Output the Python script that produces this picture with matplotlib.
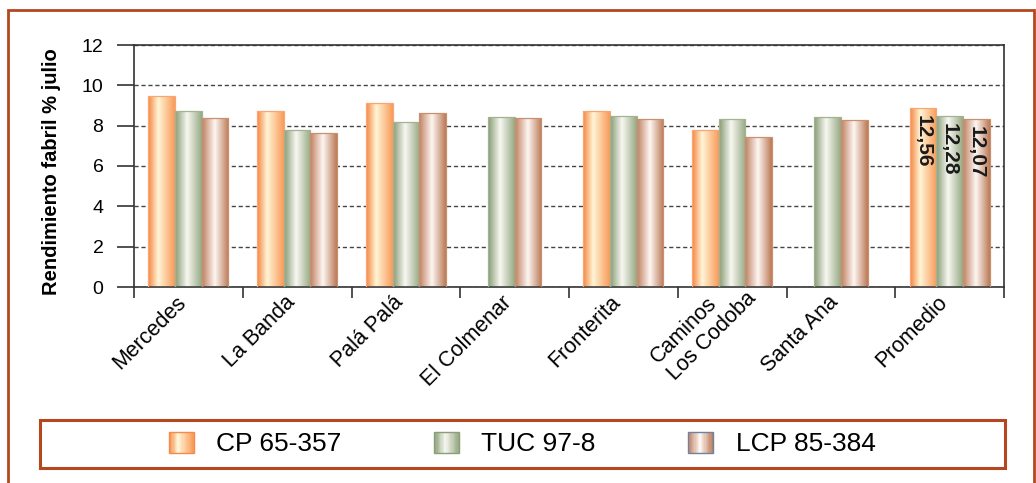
import numpy as np
import matplotlib
matplotlib.use('Agg')
import matplotlib.pyplot as plt
import matplotlib.transforms as mtransforms
from matplotlib.colors import LinearSegmentedColormap
from matplotlib.patches import Rectangle
from matplotlib.legend_handler import HandlerBase

plt.rcParams['font.family'] = ['Liberation Sans', 'DejaVu Sans']

# Data
categories = ['Mercedes', 'La Banda', 'Palá Palá', 'El Colmenar', 'Fronterita',
              'Caminos\nLos Codoba', 'Santa Ana', 'Promedio']
series_names = ['CP 65-357', 'TUC 97-8', 'LCP 85-384']
cp_values = [9.47, 8.71, 9.12, np.nan, 8.71, 7.77, np.nan, 8.89]
tuc_values = [8.73, 7.77, 8.20, 8.43, 8.50, 8.32, 8.43, 8.47]
lcp_values = [8.38, 7.64, 8.63, 8.38, 8.33, 7.44, 8.28, 8.33]
promedio_labels = ['12,56', '12,28', '12,07']
y_ticks = [0, 2, 4, 6, 8, 10, 12]

FRAME_COLOR = '#b5471f'

# Cylinder-like gradients for each series
cmaps = [
    LinearSegmentedColormap.from_list('cp', [(0, '#f5843f'), (0.38, '#fff5d6'), (1, '#f99a58')]),
    LinearSegmentedColormap.from_list('tuc', [(0, '#869a73'), (0.45, '#f8f8f2'), (1, '#95a883')]),
    LinearSegmentedColormap.from_list('lcp', [(0, '#c07f5f'), (0.48, '#fdf6f3'), (1, '#bb7955')]),
]
edge_colors = ['#f9a677', '#a2b392', '#c8906f']
legend_edges = ['#f58a4a', '#8a9e78', '#6f82a3']

fig = plt.figure(figsize=(10.36, 4.83), dpi=100)
ax = fig.add_axes([134 / 1036, 196 / 483, 870 / 1036, 242 / 483])

values = np.array([cp_values, tuc_values, lcp_values])
bar_width = 0.245
gradient = np.linspace(0, 1, 256).reshape(1, -1)

for i in range(len(categories)):
    present = [s for s in range(3) if not np.isnan(values[s, i])]
    n = len(present)
    for k, s in enumerate(present):
        x = i + (k - (n - 1) / 2) * bar_width
        bar = ax.bar(x, values[s, i], width=bar_width, facecolor='none',
                     edgecolor=edge_colors[s], linewidth=0.9, zorder=3)[0]
        bx, by = bar.get_x(), bar.get_y()
        im = ax.imshow(gradient, cmap=cmaps[s], aspect='auto', zorder=2,
                       extent=(bx, bx + bar.get_width(), by, by + bar.get_height()))
        im.set_clip_path(bar)

# Labels inside the Promedio bars
last = len(categories) - 1
for k, s in enumerate(range(3)):
    x = last + (k - 1) * bar_width
    ax.annotate(promedio_labels[k], (x, values[s, last]), xytext=(0, -5),
                textcoords='offset points', rotation=-90, ha='center', va='top',
                fontsize=15, fontweight='bold', color='#1a1a1a', zorder=4)

ax.set_xlim(-0.5, len(categories) - 0.5)
ax.set_ylim(0, 12)
ax.set_yticks(y_ticks)
ax.yaxis.grid(True, linestyle=(0, (3, 2)), color='#444444', linewidth=1.0, zorder=0)
ax.set_axisbelow(True)

ax.set_xticks(np.arange(len(categories) + 1) - 0.5)
ax.set_xticklabels([])
ax.set_xticks(np.arange(len(categories)), minor=True)
ax.set_xticklabels(categories, minor=True, rotation=45, ha='right', va='center',
                   rotation_mode='anchor', fontsize=15.5, multialignment='left')
ax.tick_params(axis='x', which='minor', length=0, pad=9)
ax.tick_params(axis='x', which='major', direction='out', length=8, width=1.2, color='#333333')
ax.tick_params(axis='y', direction='out', length=12, width=1.2, color='#333333',
               labelsize=14, pad=10)

# nudge the rotated labels; the two-line one sits further along its baseline
for lab in ax.get_xticklabels(minor=True):
    if '\n' in lab.get_text():
        shift = mtransforms.ScaledTranslation(9 / 72, 9 / 72, fig.dpi_scale_trans)
    else:
        shift = mtransforms.ScaledTranslation(-4 / 72, 0, fig.dpi_scale_trans)
    lab.set_transform(lab.get_transform() + shift)

for spine in ax.spines.values():
    spine.set_color('#333333')
    spine.set_linewidth(1.2)

ax.set_ylabel('Rendimiento fabril % julio', fontsize=14.5, fontweight='bold')
ax.yaxis.set_label_coords(-0.084, 0.475)

# Outer frame and legend box
fig.patches.append(Rectangle((8 / 1036, -0.1), 1026 / 1036, (473 / 483) + 0.1,
                             transform=fig.transFigure, fill=False,
                             edgecolor=FRAME_COLOR, linewidth=2.0))
fig.patches.append(Rectangle((40 / 1036, 15 / 483), 965 / 1036, 48 / 483,
                             transform=fig.transFigure, fill=False,
                             edgecolor=FRAME_COLOR, linewidth=2.2))


class GradientHandler(HandlerBase):
    def __init__(self, cmap, edge):
        super().__init__()
        self.cmap = cmap
        self.edge = edge

    def create_artists(self, legend, orig_handle, xdescent, ydescent, width, height, fontsize, trans):
        artists = []
        n = 20
        for j in range(n):
            r = Rectangle((-xdescent + width * j / n, -ydescent), width / n + 0.3, height,
                          facecolor=self.cmap((j + 0.5) / n), edgecolor='none', transform=trans)
            artists.append(r)
        artists.append(Rectangle((-xdescent, -ydescent), width, height, fill=False,
                                 edgecolor=self.edge, linewidth=1.0, transform=trans))
        return artists


handles = [Rectangle((0, 0), 1, 1) for _ in series_names]
fig.legend(handles, series_names, ncol=3, loc='center', bbox_to_anchor=(522 / 1036, 39 / 483),
           frameon=False, fontsize=19, handlelength=0.95, handleheight=0.87,
           handletextpad=0.85, columnspacing=3.5,
           handler_map={h: GradientHandler(cmaps[i], legend_edges[i]) for i, h in enumerate(handles)})

fig.savefig('out.png', dpi=100)
